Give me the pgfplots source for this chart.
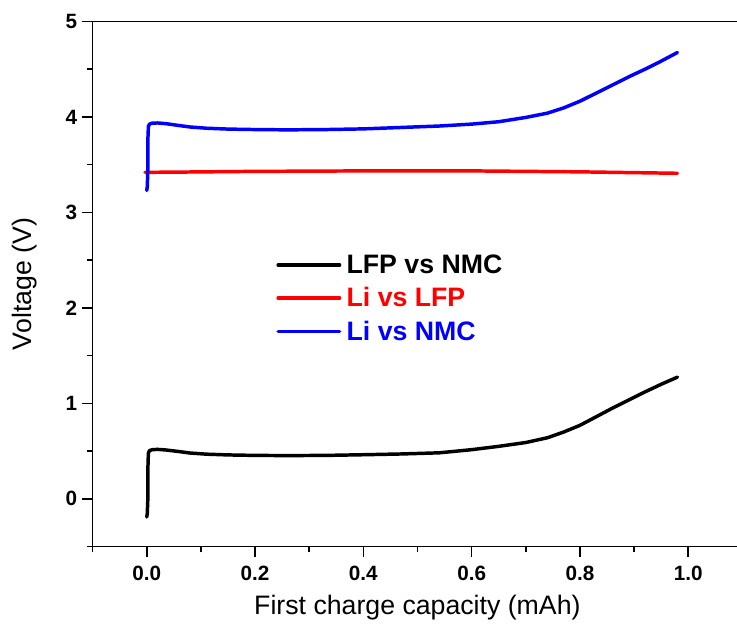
\documentclass[border=0pt]{standalone}
\usepackage{pgfplots}
\pgfplotsset{compat=1.18}
\usepackage{fontspec}
\setmainfont{Liberation Sans}

\begin{document}
\begin{tikzpicture}
\begin{axis}[
  name=ax,
  scale only axis,
  width=482.9pt, height=393.5pt,
  xmin=-0.1, xmax=1.09,
  ymin=-0.5, ymax=5,
  axis x line*=box,
  axis y line*=left,
  axis line style={-, line width=1.2pt},
  xtick pos=bottom,
  ytick pos=left,
  tick align=outside,
  major tick length=8pt,
  minor tick length=4.3pt,
  every tick/.style={black, line width=1.2pt},
  xtick={0,0.2,0.4,0.6,0.8,1.0},
  minor xtick={-0.1,0.1,0.3,0.5,0.7,0.9},
  ytick={0,1,2,3,4,5},
  minor ytick={-0.5,0.5,1.5,2.5,3.5,4.5},
  /pgf/number format/assume math mode=true,
  tick label style={font=\bfseries\fontsize{15.5}{18}\selectfont},
  xticklabel style={yshift=-3pt, /pgf/number format/.cd, fixed, fixed zerofill, precision=1},
  xlabel={First charge capacity (mAh)},
  ylabel={Voltage (V)},
  every axis x label/.style={at={(rel axis cs:0.504,-0.116)}, anchor=center,
    font=\fontsize{20}{24}\selectfont},
  every axis y label/.style={at={(rel axis cs:-0.105,0.5)}, anchor=center, rotate=90,
    font=\fontsize{20}{24}\selectfont},
  legend image code/.code={\draw[#1] (0pt,0pt) -- (46pt,0pt);},
  legend cell align=left,
  legend style={at={(axis cs:0.239,2.1)}, anchor=west, draw=none, fill=none,
    font=\bfseries\fontsize{20}{24}\selectfont, row sep=5pt,
    inner xsep=0pt, inner ysep=0pt,
    /tikz/every odd column/.style={column sep=2pt}},
  every axis plot/.append style={line width=2.6pt, line join=round, line cap=round},
]
% LFP vs NMC full cell
\addplot[black] coordinates {
  (0.000,-0.19) (0.001,-0.15) (0.002,0.00) (0.002,0.30) (0.003,0.48)
  (0.005,0.505) (0.010,0.515) (0.020,0.518) (0.035,0.512) (0.060,0.495)
  (0.080,0.480) (0.110,0.468) (0.150,0.460) (0.200,0.455) (0.260,0.453)
  (0.330,0.455) (0.400,0.462) (0.470,0.470) (0.540,0.482) (0.600,0.515)
  (0.650,0.550) (0.700,0.590) (0.740,0.640) (0.770,0.700) (0.800,0.770)
  (0.830,0.860) (0.860,0.950) (0.890,1.035) (0.920,1.120) (0.950,1.200)
  (0.980,1.275)
};
\addlegendentry{LFP vs NMC}
% Li vs LFP half cell
\addplot[red] coordinates {
  (-0.003,3.42) (0.050,3.422) (0.200,3.430) (0.400,3.435) (0.600,3.435)
  (0.800,3.425) (0.980,3.410)
};
\addlegendentry{\textcolor{red}{Li vs LFP}}
% Li vs NMC half cell
\addplot[blue] coordinates {
  (0.000,3.23) (0.001,3.27) (0.002,3.45) (0.002,3.75) (0.003,3.90)
  (0.005,3.925) (0.010,3.935) (0.020,3.937) (0.035,3.930) (0.060,3.910)
  (0.080,3.895) (0.110,3.882) (0.150,3.873) (0.200,3.868) (0.260,3.865)
  (0.330,3.868) (0.400,3.875) (0.470,3.890) (0.540,3.905) (0.600,3.925)
  (0.650,3.950) (0.700,3.995) (0.740,4.040) (0.770,4.095) (0.800,4.165)
  (0.830,4.250) (0.860,4.335) (0.890,4.420) (0.920,4.500) (0.950,4.585)
  (0.980,4.675)
};
\addlegendentry{\textcolor{blue}{Li vs NMC}}
\end{axis}
\pgfresetboundingbox
\path ([xshift=-69.4pt,yshift=-65.25pt]ax.south west) rectangle ([yshift=16.1pt]ax.north east);
\end{tikzpicture}
\end{document}
